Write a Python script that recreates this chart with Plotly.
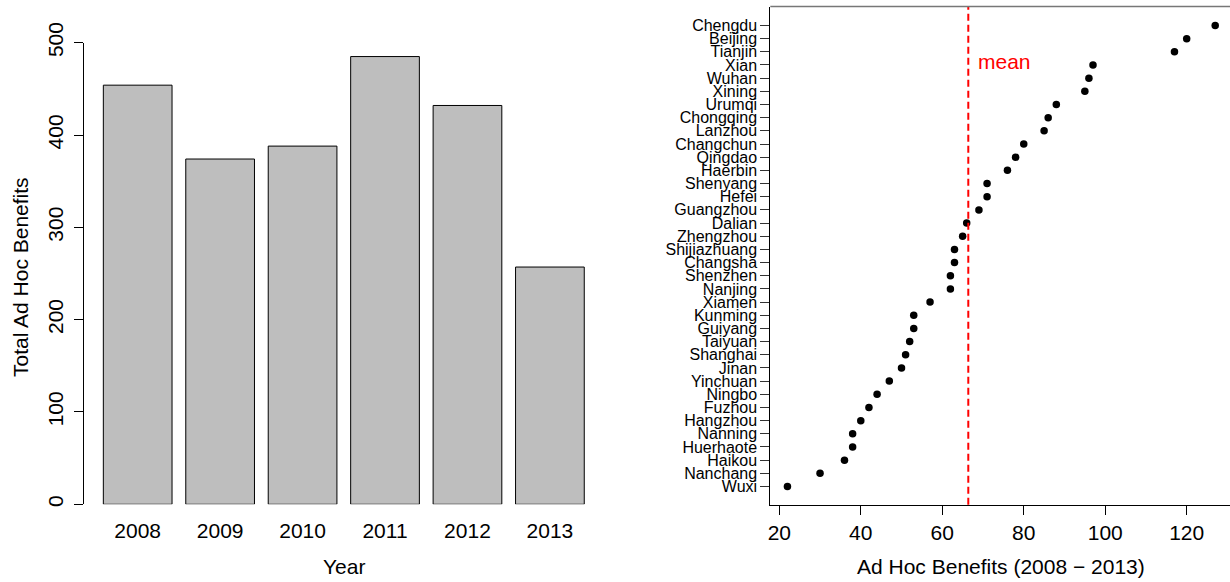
import plotly.graph_objects as go

# ---- data ----
years = ["2008", "2009", "2010", "2011", "2012", "2013"]
totals = [454, 374, 388, 485, 432, 257]

cities = ["Wuxi", "Nanchang", "Haikou", "Huerhaote", "Nanning", "Hangzhou", "Fuzhou",
          "Ningbo", "Yinchuan", "Jinan", "Shanghai", "Taiyuan", "Guiyang", "Kunming",
          "Xiamen", "Nanjing", "Shenzhen", "Changsha", "Shijiazhuang", "Zhengzhou",
          "Dalian", "Guangzhou", "Hefei", "Shenyang", "Haerbin", "Qingdao", "Changchun",
          "Lanzhou", "Chongqing", "Urumqi", "Xining", "Wuhan", "Xian", "Tianjin",
          "Beijing", "Chengdu"]
city_values = [22, 30, 36, 38, 38, 40, 42, 44, 47, 50, 51, 52, 53, 53, 57, 62, 62, 63,
               63, 65, 66, 69, 71, 71, 76, 78, 80, 85, 86, 88, 95, 96, 97, 117, 120, 127]

left_yticks = [0, 100, 200, 300, 400, 500]
right_xticks = [20, 40, 60, 80, 100, 120]

mean_val = sum(city_values) / len(city_values)

W, H = 1230, 582
FONT = "Liberation Sans, Arial, Helvetica, sans-serif"


def px_x(p):
    return p / W


def px_y(p):
    return 1 - p / H


fig = go.Figure()

fig.add_trace(go.Bar(
    x=years, y=totals, xaxis="x", yaxis="y",
    marker=dict(color="#bebebe", line=dict(color="black", width=1)),
    showlegend=False, hoverinfo="skip",
))

fig.add_trace(go.Scatter(
    x=city_values, y=cities, xaxis="x2", yaxis="y2", mode="markers",
    marker=dict(color="black", size=7.5),
    showlegend=False, hoverinfo="skip",
))

axis_common = dict(showgrid=False, zeroline=False, color="black", automargin=False,
                   tickfont=dict(family=FONT, size=21, color="black"))

fig.update_layout(
    width=W, height=H, autosize=False,
    margin=dict(l=0, r=0, t=0, b=0, pad=0, autoexpand=False),
    paper_bgcolor="white", plot_bgcolor="white",
    bargap=0.1667,
    font=dict(family=FONT, color="black"),
    xaxis=dict(domain=[px_x(84.1), px_x(603.5)], range=[-0.65, 5.65],
               type="category", showline=False, ticks="", ticklabelstandoff=12,
               anchor="y", **axis_common),
    yaxis=dict(domain=[px_y(504.3), px_y(42.7)], range=[0, 500],
               tickvals=left_yticks, showline=True, linecolor="black", linewidth=1,
               ticks="outside", ticklen=9, tickcolor="black", tickwidth=1,
               tickangle=-90, ticklabelstandoff=3, anchor="x", **axis_common),
    xaxis2=dict(domain=[px_x(770.3), 1.0], range=[17.79, 130.63],
                tickvals=right_xticks, showline=True, linecolor="black", linewidth=1,
                ticks="outside", ticklen=9, tickcolor="black", tickwidth=1,
                anchor="y2", **axis_common),
    yaxis2=dict(domain=[px_y(504.7), px_y(6.5)], range=[-1.382, 36.44],
                type="category", categoryorder="array", categoryarray=cities,
                tickmode="array", tickvals=cities, ticktext=cities,
                showline=True, linecolor="black", linewidth=1,
                ticks="outside", ticklen=9, tickcolor="#333", tickwidth=1,
                anchor="x2", showgrid=False, zeroline=False, automargin=False,
                tickfont=dict(family=FONT, size=16, color="black")),
)

# mean line
fig.add_shape(type="line", xref="x2", yref="paper", x0=mean_val, x1=mean_val,
              y0=px_y(504.7), y1=px_y(6.5),
              line=dict(color="red", width=2, dash="7px,4px"))
# top border of right panel
fig.add_shape(type="line", xref="paper", yref="paper", x0=px_x(770.3), x1=1.0,
              y0=px_y(6.5), y1=px_y(6.5), line=dict(color="#777", width=1.5))

fig.add_annotation(x=mean_val, xref="x2", y=px_y(62), yref="paper", text="mean",
                   showarrow=False, xanchor="left", yanchor="middle", xshift=8,
                   font=dict(family=FONT, size=21, color="red"))

# axis titles
fig.add_annotation(x=px_x(343.8), y=px_y(566), xref="paper", yref="paper", text="Year",
                   showarrow=False, xanchor="center", yanchor="middle",
                   font=dict(family=FONT, size=21, color="black"))
fig.add_annotation(x=px_x(20), y=px_y(277), xref="paper", yref="paper",
                   text="Total Ad Hoc Benefits", textangle=-90,
                   showarrow=False, xanchor="center", yanchor="middle",
                   font=dict(family=FONT, size=21, color="black"))
fig.add_annotation(x=px_x(1001), y=px_y(566), xref="paper", yref="paper",
                   text="Ad Hoc Benefits (2008 \u2212 2013)",
                   showarrow=False, xanchor="center", yanchor="middle",
                   font=dict(family=FONT, size=21, color="black"))

fig.write_html("out.html", config={"displayModeBar": False},
               post_script="document.body.style.margin='0';")
